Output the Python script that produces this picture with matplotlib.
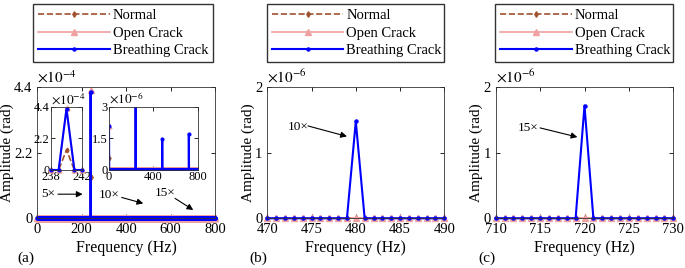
import numpy as np
import matplotlib
matplotlib.use("Agg")
import matplotlib.pyplot as plt

plt.rcParams['font.family'] = ['Liberation Serif', 'DejaVu Serif']
plt.rcParams['mathtext.fontset'] = 'stix'
plt.rcParams['font.size'] = 11
plt.rcParams['xtick.direction'] = 'in'
plt.rcParams['ytick.direction'] = 'in'
plt.rcParams['xtick.labelsize'] = 10.5
plt.rcParams['ytick.labelsize'] = 10.5

# spectrum on a 1 Hz grid, zero except at the listed peaks
freq = np.arange(0, 801)
peak_freqs = [0, 240, 480, 720]
normal_peaks = [0.55e-6, 1.4e-4, 0.0, 0.0]
open_peaks = [2.1e-6, 4.3e-4, 0.0, 0.0]
breathing_peaks = [2.1e-6, 4.25e-4, 1.48e-6, 1.72e-6]

labels = ['Normal', 'Open Crack', 'Breathing Crack']
colors = ['#A0522D', '#F0A0A0', '#0000FF']


def spectrum(peaks):
    amp = np.zeros(len(freq))
    for f, a in zip(peak_freqs, peaks):
        amp[f] = a
    return amp


normal = spectrum(normal_peaks)
opencr = spectrum(open_peaks)
breath = spectrum(breathing_peaks)


def draw(ax, lo=0, hi=800, ms=4, clip=False):
    m = (freq >= lo) & (freq <= hi)
    ax.plot(freq[m], normal[m], '--', color=colors[0], marker='d', ms=ms * 0.7, lw=1.2,
            label=labels[0], clip_on=clip)
    ax.plot(freq[m], opencr[m], '-', color=colors[1], marker='^', ms=ms, lw=1.2,
            label=labels[1], clip_on=clip)
    ax.plot(freq[m], breath[m], '-', color=colors[2], marker='.', ms=ms * 1.1, lw=1.5,
            label=labels[2], clip_on=clip)


def boxit(ax):
    ax.tick_params(top=True, right=True, length=3, width=0.6)
    for s in ax.spines.values():
        s.set_linewidth(0.6)
        s.set_color('#333333')


def legend(ax, x0, w):
    ax.legend(loc='lower left', bbox_to_anchor=(x0, 1.19, w, 0.1), mode='expand',
              borderaxespad=0, fancybox=False, edgecolor='#333333', framealpha=1,
              handlelength=4.9, handletextpad=0.2, labelspacing=0.3, borderpad=0.35,
              fontsize=10.5)


fig = plt.figure(figsize=(6.85, 2.68), dpi=100)
W, H = 685, 268


def axes_px(l, r, t, b):
    return fig.add_axes([l / W, 1 - b / H, (r - l) / W, (b - t) / H])


arrow = dict(arrowstyle='-|>', color='k', lw=0.8, mutation_scale=9, shrinkA=0, shrinkB=0)

# (a)
axa = axes_px(37.3, 215, 87.3, 218.3)
draw(axa)
axa.set_xlim(0, 800)
axa.set_ylim(0, 4.4e-4)
axa.set_xticks([0, 200, 400, 600, 800])
axa.set_yticks([0, 2.2e-4, 4.4e-4])
axa.set_yticklabels(['0', '2.2', '4.4'])
axa.text(0.0, 1.01, r'$\times10^{-4}$', transform=axa.transAxes, fontsize=11, va='bottom')
axa.set_xlabel('Frequency (Hz)', labelpad=3, fontsize=11.5)
axa.set_ylabel('Amplitude (rad)', labelpad=0, fontsize=11)
boxit(axa)
legend(axa, -0.024, 1.013)
axa.text(-0.11, -0.305, '(a)', transform=axa.transAxes, fontsize=11, va='center')

axa.text(20, 0.81e-4, '5×', fontsize=9.5, va='center')
axa.annotate('', xy=(204, 0.81e-4), xytext=(93, 0.81e-4), arrowprops=arrow)
axa.text(279, 0.78e-4, '10×', fontsize=9.5, va='center')
axa.annotate('', xy=(477, 0.50e-4), xytext=(380, 0.70e-4), arrowprops=arrow)
axa.text(530, 0.84e-4, '15×', fontsize=9.5, va='center')
axa.annotate('', xy=(702, 0.28e-4), xytext=(620, 0.67e-4), arrowprops=arrow)

# inset 1: zoom around 240 Hz
ins1 = axes_px(50.7, 82.3, 106.7, 170)
draw(ins1, 238, 242, ms=3.5)
ins1.set_xlim(238, 242)
ins1.set_ylim(0, 4.4e-4)
ins1.set_xticks([238, 242])
ins1.set_yticks([0, 2.2e-4, 4.4e-4])
ins1.set_yticklabels(['0', '2.2', '4.4'])
ins1.tick_params(labelsize=9, pad=1)
ins1.text(0.0, 1.0, r'$\times10^{-4}$', transform=ins1.transAxes, fontsize=9.5, va='bottom')
boxit(ins1)

# inset 2: small harmonics
ins2 = axes_px(109, 197.7, 106.7, 170)
draw(ins2, ms=3.5, clip=True)
ins2.set_xlim(0, 800)
ins2.set_ylim(0, 3e-6)
ins2.set_xticks([0, 400, 800])
ins2.set_yticks([0, 1.5e-6, 3e-6])
ins2.set_yticklabels(['0', '1.5', '3'])
ins2.tick_params(labelsize=9, pad=1)
ins2.text(0.0, 1.0, r'$\times10^{-6}$', transform=ins2.transAxes, fontsize=9.5, va='bottom')
boxit(ins2)

# (b) and (c)
panels = [
    (267.3, 444.3, 470, 490, '(b)', '10×', (472.3, 1.40e-6), (474.6, 1.41e-6), (479.0, 1.25e-6)),
    (495.7, 673.3, 710, 730, '(c)', '15×', (712.5, 1.38e-6), (715.0, 1.38e-6), (719.2, 1.24e-6)),
]
for l, r, x0, x1, tag, lab, tpos, apos, tip in panels:
    ax = axes_px(l, r, 87.3, 218.3)
    draw(ax, x0, x1)
    ax.set_xlim(x0, x1)
    ax.set_ylim(0, 2e-6)
    ax.set_xticks(np.arange(x0, x1 + 1, 5))
    ax.set_yticks([0, 1e-6, 2e-6])
    ax.set_yticklabels(['0', '1', '2'])
    ax.text(0.0, 1.01, r'$\times10^{-6}$', transform=ax.transAxes, fontsize=11, va='bottom')
    ax.set_xlabel('Frequency (Hz)', labelpad=3, fontsize=11.5)
    ax.set_ylabel('Amplitude (rad)', labelpad=0, fontsize=11)
    boxit(ax)
    legend(ax, -0.003, 1.0)
    ax.text(-0.1, -0.305, tag, transform=ax.transAxes, fontsize=11, va='center')
    ax.text(tpos[0], tpos[1], lab, fontsize=9.5, va='center')
    ax.annotate('', xy=tip, xytext=apos, arrowprops=arrow)

fig.savefig('out.png', dpi=100)
